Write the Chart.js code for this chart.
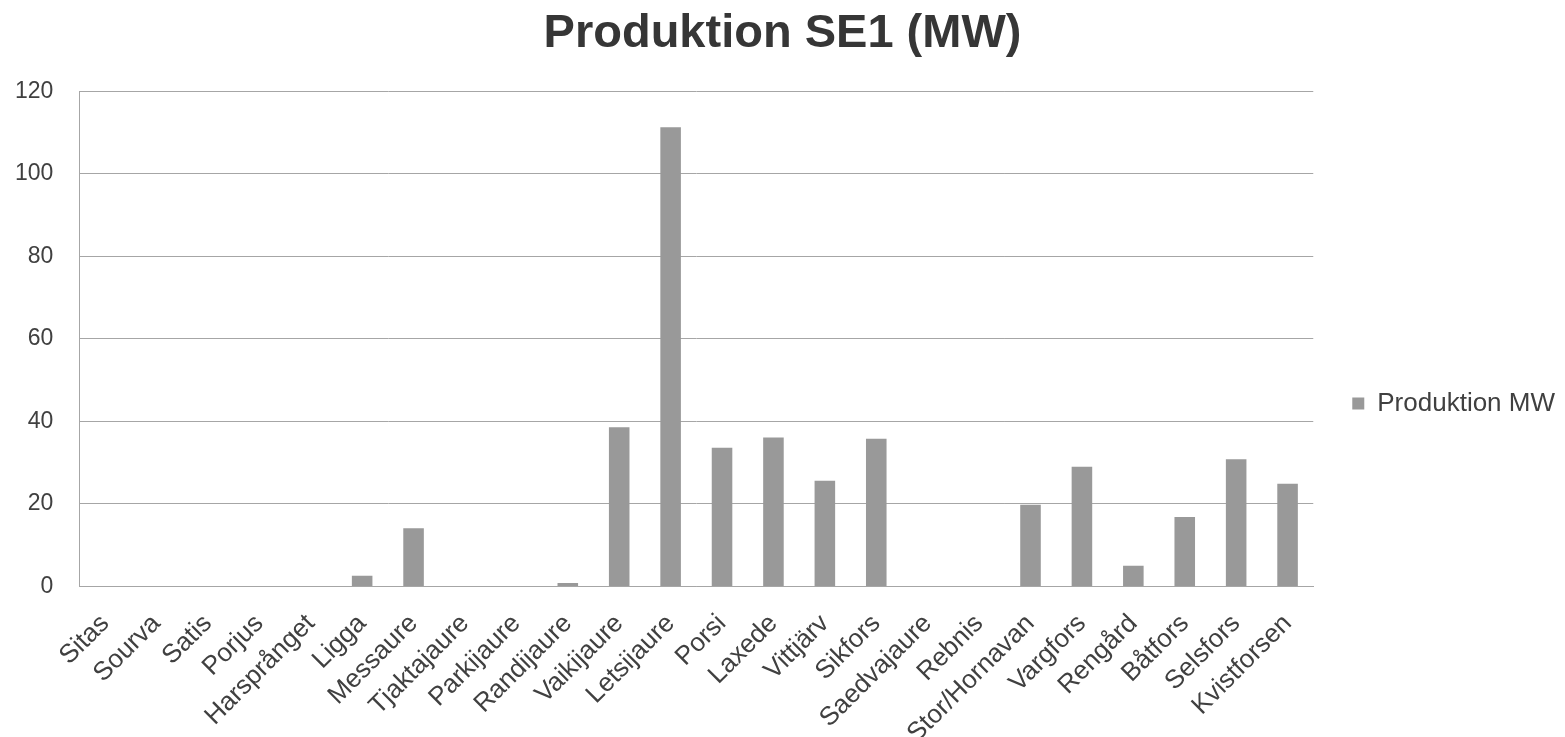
<!DOCTYPE html>
<html lang="sv">
<head>
<meta charset="utf-8">
<title>Produktion SE1 (MW)</title>
<script src="https://cdn.jsdelivr.net/npm/chart.js@4.4.1/dist/chart.umd.min.js"></script>
<style>
  html, body { margin: 0; padding: 0; background: #fff; }
  #chart-wrapper { width: 1565px; height: 737px; position: relative; }
</style>
</head>
<body>
<div id="chart-wrapper"><canvas id="production-chart"></canvas></div>
<script>
const stations = [
  "Sitas", "Sourva", "Satis", "Porjus", "Harsprånget", "Ligga", "Messaure",
  "Tjaktajaure", "Parkijaure", "Randijaure", "Vaikijaure", "Letsijaure",
  "Porsi", "Laxede", "Vittjärv", "Sikfors", "Saedvajaure", "Rebnis",
  "Stor/Hornavan", "Vargfors", "Rengård", "Båtfors", "Selsfors", "Kvistforsen",
];
const productionMW = [
  0, 0, 0, 0, 0, 2.6, 14.1,
  0, 0, 0.8, 38.6, 111.3,
  33.6, 36.1, 25.6, 35.8, 0, 0,
  19.8, 29.0, 5.0, 16.8, 30.8, 24.9,
];
const seriesLabel = "Produktion MW";
const chartTitle = "Produktion SE1 (MW)";
const yMin = 0;
const yMax = 120;
const yStep = 20;

const colors = {
  bar: "#999999",
  text: "#404040",
  title: "#363636",
  grid: "#a6a6a6",
};
const fontFamily = "'Liberation Sans', Arial, Helvetica, sans-serif";

new Chart(document.getElementById("production-chart"), {
  type: "bar",
  data: {
    labels: stations,
    datasets: [
      {
        label: seriesLabel,
        data: productionMW,
        backgroundColor: colors.bar,
        borderWidth: 0,
        categoryPercentage: 1,
        barPercentage: 0.4,
      },
    ],
  },
  options: {
    responsive: true,
    maintainAspectRatio: false,
    animation: false,
    layout: {
      padding: { left: 0, right: 0, top: 0, bottom: 0 },
    },
    scales: {
      x: {
        grid: { display: false, drawTicks: false },
        border: { display: true, color: colors.grid, width: 1 },
        ticks: {
          color: colors.text,
          font: { family: fontFamily, size: 26 },
          minRotation: 45,
          maxRotation: 45,
          autoSkip: false,
          padding: 22,
        },
        // labels sit further below the axis, but the long ones may run to the bottom edge
        afterFit: (scale) => {
          scale.height -= scale.options.ticks.padding + 12;
          scale.paddingLeft = 0;
          scale.paddingRight = 0;
        },
      },
      y: {
        min: yMin,
        max: yMax,
        grid: { color: colors.grid, lineWidth: 1, drawTicks: false },
        border: { display: true, color: colors.grid, width: 1 },
        ticks: {
          stepSize: yStep,
          color: colors.text,
          font: { family: fontFamily, size: 23 },
          padding: 26,
        },
        // Chart.js reserves the tick padding twice; keep it once plus a small left margin
        afterFit: (scale) => {
          scale.width = scale.width - scale.options.ticks.padding + 15;
        },
      },
    },
    plugins: {
      title: {
        display: true,
        text: chartTitle,
        color: colors.title,
        font: { family: fontFamily, size: 47, weight: "bold" },
        padding: { top: 6, bottom: 29 },
      },
      legend: {
        position: "right",
        // empty title only pushes the single entry a bit lower
        title: {
          display: true,
          text: " ",
          font: { size: 10 },
          padding: { top: 58, bottom: 0 },
        },
        labels: {
          color: colors.text,
          font: { family: fontFamily, size: 26 },
          boxWidth: 12,
          boxHeight: 12,
          padding: 39,
        },
      },
      tooltip: { enabled: false },
    },
  },
});
</script>
</body>
</html>
